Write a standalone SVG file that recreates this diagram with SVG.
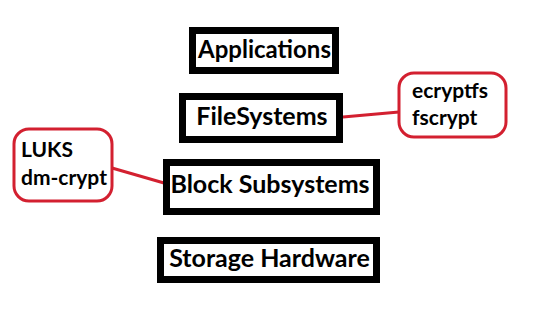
<svg xmlns="http://www.w3.org/2000/svg" width="550" height="318" viewBox="0 0 550 318">
<style>
.box{fill:#fff;stroke:#000;stroke-width:7}
.note{fill:#fff;stroke:#d32030;stroke-width:3}
.link{stroke:#d32030;stroke-width:3;fill:none}
text{font-family:Lato,"Open Sans","Liberation Sans",sans-serif;font-weight:bold;fill:#000}
.t{font-size:25px;text-anchor:middle}
.n{font-size:21px}
</style>
<rect width="550" height="318" fill="#fff"/>
<g id="connectors">
<line class="link" x1="343" y1="117" x2="399" y2="112"/>
<line class="link" x1="112" y1="168" x2="164" y2="183"/>
</g>
<g id="applications">
<rect class="box" x="192.5" y="30.5" width="143" height="40"/>
<text class="t" x="264.5" y="58" style="font-size:24px">Applications</text>
</g>
<g id="filesystems">
<rect class="box" x="182.5" y="96.5" width="157" height="43"/>
<text class="t" x="262" y="125">FileSystems</text>
</g>
<g id="block">
<rect class="box" x="166.5" y="162.5" width="210" height="49"/>
<text class="t" x="270" y="193">Block Subsystems</text>
</g>
<g id="storage">
<rect class="box" x="160.5" y="240.5" width="216" height="39"/>
<text class="t" x="269.5" y="267">Storage Hardware</text>
</g>
<g id="ecryptfs">
<rect class="note" x="399" y="73" width="107" height="64" rx="15"/>
<text class="n" x="412" y="98">ecryptfs</text>
<text class="n" x="412" y="125">fscrypt</text>
</g>
<g id="luks">
<rect class="note" x="14" y="129" width="98" height="72" rx="15"/>
<text class="n" x="21" y="157">LUKS</text>
<text class="n" x="21" y="185">dm-crypt</text>
</g>
</svg>
